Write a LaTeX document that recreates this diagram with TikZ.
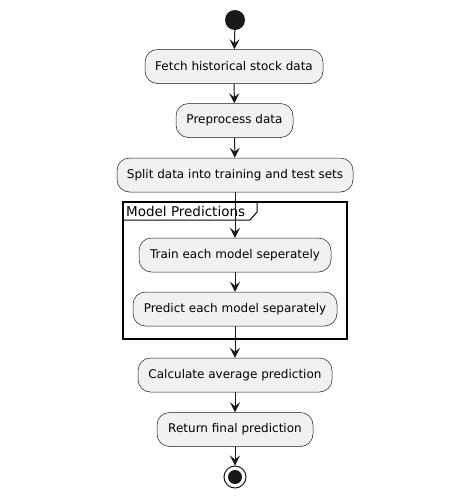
\documentclass[tikz,border=0pt]{standalone}
\usepackage{fontspec}
\setmainfont{DejaVu Sans}
\usetikzlibrary{arrows.meta}
\definecolor{boxfill}{HTML}{F1F1F1}
\definecolor{boxline}{HTML}{181818}
\tikzset{
  act/.style={draw=boxline, fill=boxfill, line width=0.5pt, rounded corners=12.5pt,
    minimum height=34pt, inner sep=0pt, font=\fontsize{12}{14}\selectfont, text=black},
  flow/.style={draw=boxline, line width=1pt, -{Stealth[length=10pt,width=10pt,inset=4pt]}},
}
\begin{document}
\begin{tikzpicture}[x=1pt,y=-1pt]
\useasboundingbox (0,0) rectangle (469,499);
% partition frame
\draw[line width=1.5pt] (123,202) rectangle (347,339);
\draw[line width=1pt] (123,220) -- (250,220) -- (257,212) -- (257,202);
\node[anchor=west, font=\fontsize{13.5}{16}\selectfont, inner sep=0pt] (plabel) at (126,211.5) {Model Predictions};
% start
\node[circle, fill=boxline, minimum size=20pt, inner sep=0pt] (start) at (235,20) {};
\node[act, minimum width=178pt] (fetch) at (234,66.5) {Fetch historical stock data};
\node[act, minimum width=117pt] (prep) at (234.5,120.5) {Preprocess data};
\node[act, minimum width=236pt] (split) at (235,175) {Split data into training and test sets};
\node[act, minimum width=192pt] (train) at (235,255) {Train each model seperately};
\node[act, minimum width=204pt] (pred) at (235,309) {Predict each model separately};
\node[act, minimum width=194pt] (calc) at (235,375) {Calculate average prediction};
\node[act, minimum width=156pt] (ret) at (235,429.5) {Return final prediction};
% end
\node[circle, draw=boxline, fill=white, line width=1pt, minimum size=22pt, inner sep=0pt] (stop) at (235,477) {};
\node[circle, fill=boxline, minimum size=14pt, inner sep=0pt] at (stop) {};
% connectors
\draw[flow] (start) -- (fetch);
\draw[flow] (fetch) -- (prep);
\draw[flow] (prep) -- (split);
\draw[flow] (split) -- (train);
\draw[flow] (train) -- (pred);
\draw[flow] (pred) -- (calc);
\draw[flow] (calc) -- (ret);
\draw[flow] (ret) -- (stop);
\end{tikzpicture}
\end{document}
